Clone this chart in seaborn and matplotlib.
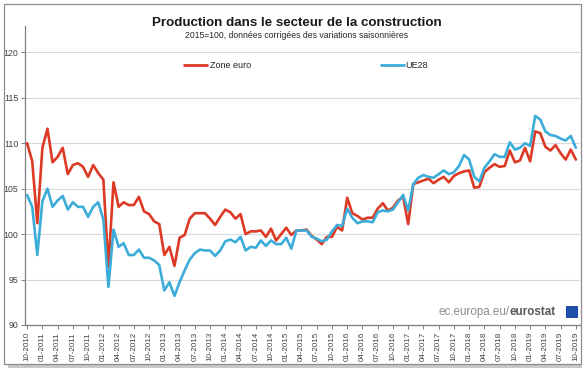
import matplotlib
matplotlib.use("Agg")
import matplotlib.pyplot as plt
from matplotlib.patches import Rectangle
import pandas as pd
import seaborn as sns

# ── data ──────────────────────────────────────────────────────────
months = pd.date_range("2010-10-01", "2019-10-01", freq="MS")

zone_euro = [
    110.0, 108.0, 101.2, 109.5, 111.6, 107.9, 108.5, 109.5, 106.6, 107.6,
    107.8, 107.4, 106.3, 107.6, 106.7, 106.0, 96.4, 105.7, 103.0, 103.5,
    103.2, 103.2,
    104.1, 102.5, 102.2, 101.4, 101.1, 97.7, 98.6, 96.5, 99.6, 99.9,
    101.7, 102.3, 102.3, 102.3, 101.7, 101.0, 101.9, 102.7, 102.4, 101.7,
    102.2,
    100.0, 100.3, 100.3, 100.4, 99.7, 100.6, 99.3, 100.0, 100.7, 99.9,
    100.4, 100.4, 100.5, 99.8, 99.4, 98.9, 99.7, 99.7, 100.8, 100.4,
    104.0, 102.3, 102.0, 101.6, 101.8, 101.8, 102.8, 103.4,
    102.6, 102.9, 103.7, 104.1, 101.1, 105.5, 105.7, 105.9, 106.1, 105.6,
    106.0, 106.3, 105.7, 106.4, 106.7,
    106.9, 107.0, 105.1, 105.2, 106.8, 107.3, 107.7, 107.4, 107.5, 109.2,
    107.9, 108.1, 109.5, 108.0, 111.3, 111.1, 109.6, 109.2, 109.8, 108.9,
    108.2, 109.3, 108.2,
]

ue28 = [
    104.3, 103.0, 97.7, 103.6, 105.0, 103.0, 103.7, 104.2, 102.7, 103.5,
    103.0, 103.0, 101.9, 103.0, 103.5, 101.6, 94.2, 100.5, 98.6, 99.0,
    97.7, 97.7,
    98.3, 97.4, 97.4, 97.1, 96.6, 93.8, 94.7, 93.2, 94.7, 96.0,
    97.2, 97.9, 98.3, 98.2, 98.2, 97.6, 98.2, 99.2, 99.4, 99.1,
    99.7,
    98.2, 98.6, 98.5, 99.3, 98.7, 99.3, 98.9, 98.9, 99.6, 98.4,
    100.4, 100.4, 100.4, 99.7, 99.5, 99.2, 99.4, 100.3, 101.0, 100.9,
    102.8, 101.8, 101.2, 101.4, 101.4, 101.3, 102.4, 102.6,
    102.5, 102.7, 103.5, 104.3, 102.6, 105.5, 106.2, 106.5, 106.3, 106.2,
    106.6, 107.0, 106.6, 106.8, 107.5,
    108.7, 108.2, 106.3, 105.8, 107.3, 108.0, 108.8, 108.5, 108.5, 110.1,
    109.3, 109.5, 110.0, 109.7, 113.0, 112.6, 111.3, 110.9, 110.8, 110.5,
    110.3, 110.8, 109.5,
]

series_names = ["Zone euro", "UE28"]
y_ticks = [90, 95, 100, 105, 110, 115, 120]

RED = "#dc3a24"
BLUE = "#3cacd8"
GRID = "#d9d9d9"
AXIS = "#7f7f7f"
TXT = "#404040"

n = len(months)
df = pd.DataFrame({
    "idx": list(range(n)) * 2,
    "value": zone_euro + ue28,
    "serie": [series_names[0]] * n + [series_names[1]] * n,
})

# ── figure ────────────────────────────────────────────────────────
sns.set_theme(style="white")
plt.rcParams["font.family"] = ["Liberation Sans", "DejaVu Sans"]

fig = plt.figure(figsize=(5.84, 3.71), dpi=100, facecolor="white")

# outer frame with soft shadow
fig.patches.append(Rectangle((0.013, 0.008), 0.984, 0.975, transform=fig.transFigure,
                             facecolor="#c8c8c8", edgecolor="none", zorder=-3))
fig.patches.append(Rectangle((0.007, 0.018), 0.988, 0.970, transform=fig.transFigure,
                             facecolor="white", edgecolor="#8c8c8c", linewidth=0.9,
                             zorder=-2))

ax = fig.add_axes([0.043, 0.124, 0.950, 0.806])
ax.set_facecolor("none")

sns.lineplot(data=df, x="idx", y="value", hue="serie",
             palette={series_names[0]: RED, series_names[1]: BLUE},
             linewidth=1.9, ax=ax, legend=False, zorder=3)

ax.set_xlim(-0.4, n - 0.2)
ax.set_ylim(90, 122.9)
ax.set_yticks(y_ticks)
ax.set_yticklabels([str(v) for v in y_ticks], fontsize=6.3, color=TXT)
ax.yaxis.grid(True, color=GRID, linewidth=0.8)
ax.xaxis.grid(False)

xt = list(range(0, n, 3))
ax.set_xticks(xt)
ax.set_xticklabels([months[i].strftime("%m-%Y") for i in xt],
                   rotation=90, fontsize=5.8, color=TXT)
ax.tick_params(axis="both", which="both", length=3, width=0.7, color=AXIS,
               direction="out", pad=2)
ax.tick_params(axis="x", bottom=True)
ax.tick_params(axis="y", left=True)
ax.set_xlabel("")
ax.set_ylabel("")

for side in ["top", "right"]:
    ax.spines[side].set_visible(False)
for side in ["left", "bottom"]:
    ax.spines[side].set_color(AXIS)
    ax.spines[side].set_linewidth(0.9)

# legend entries (two separate groups as in the source)
ax.plot([0.285, 0.33], [0.868, 0.868], transform=ax.transAxes,
        color=RED, linewidth=2.0, solid_capstyle="butt", clip_on=False)
ax.text(0.333, 0.868, series_names[0], transform=ax.transAxes,
        fontsize=6.5, color="#262626", va="center", ha="left")
ax.plot([0.64, 0.685], [0.868, 0.868], transform=ax.transAxes,
        color=BLUE, linewidth=2.0, solid_capstyle="butt", clip_on=False)
ax.text(0.686, 0.868, series_names[1], transform=ax.transAxes,
        fontsize=6.5, color="#262626", va="center", ha="left")

# titles
fig.text(0.508, 0.938, "Production dans le secteur de la construction",
         ha="center", va="center", fontsize=9.6, fontweight="bold",
         color="#1a1a1a")
fig.text(0.508, 0.904, "2015=100, données corrigées des variations saisonnières",
         ha="center", va="center", fontsize=6.2, color="#262626")

# source mark
fig.text(0.872, 0.158, "ec.europa.eu/", ha="right", va="center",
         fontsize=8.4, color="#8c8c8c")
fig.text(0.872, 0.158, "eurostat", ha="left", va="center", fontsize=8.4,
         color="#5a5a5a", fontweight="bold")
fig.patches.append(Rectangle((0.969, 0.143), 0.021, 0.032, transform=fig.transFigure,
                             facecolor="#1f4fa8", edgecolor="none", zorder=5))

fig.savefig("out.png", dpi=100, facecolor="white")
